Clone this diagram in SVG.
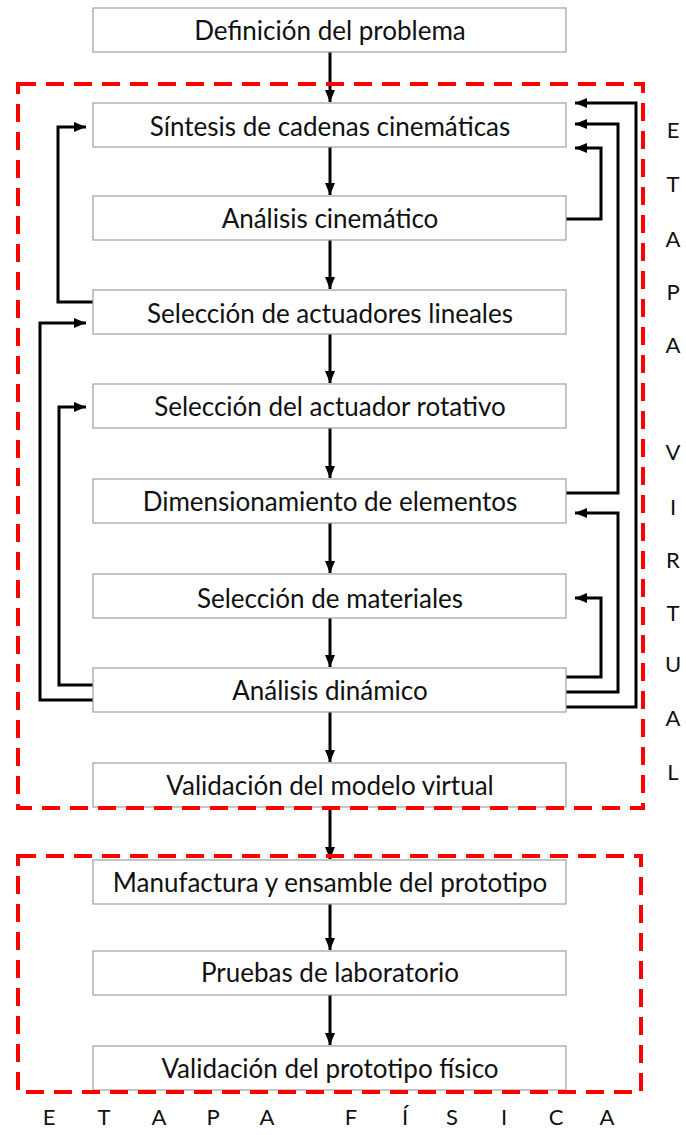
<svg xmlns="http://www.w3.org/2000/svg" width="686" height="1135" viewBox="0 0 686 1135">
<defs>
<marker id="ah" markerWidth="12" markerHeight="10" refX="12" refY="5" orient="auto" markerUnits="userSpaceOnUse">
<path d="M0,0 L12,5 L0,10 Z" fill="#000"/>
</marker>
<style>
.box{fill:#fff;stroke:#a6a6a6;stroke-width:1.3}
.lbl{font-family:Lato,"Open Sans",sans-serif;font-size:26px;fill:#111;text-anchor:middle;dominant-baseline:central}
.con{fill:none;stroke:#000;stroke-width:3;marker-end:url(#ah)}
.dash{fill:none;stroke:#ff0000;stroke-width:4;stroke-dasharray:18 10}
.let{font-family:Lato,"Open Sans",sans-serif;font-size:22px;fill:#111;text-anchor:middle;dominant-baseline:central}
</style>
</defs>
<rect width="686" height="1135" fill="#fff"/>
<g id="connectors">
<path class="con" d="M330,52 V102"/>
<path class="con" d="M330,147 V195"/>
<path class="con" d="M330,240 V289"/>
<path class="con" d="M330,334 V383"/>
<path class="con" d="M330,428 V478"/>
<path class="con" d="M330,523 V573"/>
<path class="con" d="M330,618 V667"/>
<path class="con" d="M330,712 V762"/>
<path class="con" d="M330,807 V859"/>
<path class="con" d="M330,904 V950"/>
<path class="con" d="M330,995 V1045"/>
<path class="con" d="M566,219 H601 V148 H575"/>
<path class="con" d="M566,493 H618 V124 H575"/>
<path class="con" d="M566,707 H636 V103 H575"/>
<path class="con" d="M566,692 H618 V513 H575"/>
<path class="con" d="M566,677 H601 V598 H575"/>
<path class="con" d="M93,302 H58 V127 H86"/>
<path class="con" d="M93,700 H40 V323 H86"/>
<path class="con" d="M93,685 H59 V407 H86"/>
</g>
<g id="n1"><rect class="box" x="93" y="8" width="473" height="44"/><text class="lbl" x="330" y="30">Definición del problema</text></g>
<g id="n2"><rect class="box" x="93" y="103" width="473" height="44"/><text class="lbl" x="330" y="126">Síntesis de cadenas cinemáticas</text></g>
<g id="n3"><rect class="box" x="93" y="196" width="473" height="44"/><text class="lbl" x="330" y="218">Análisis cinemático</text></g>
<g id="n4"><rect class="box" x="93" y="290" width="473" height="44"/><text class="lbl" x="330" y="313">Selección de actuadores lineales</text></g>
<g id="n5"><rect class="box" x="93" y="384" width="473" height="44"/><text class="lbl" x="330" y="406">Selección del actuador rotativo</text></g>
<g id="n6"><rect class="box" x="93" y="479" width="473" height="44"/><text class="lbl" x="330" y="501">Dimensionamiento de elementos</text></g>
<g id="n7"><rect class="box" x="93" y="574" width="473" height="44"/><text class="lbl" x="330" y="598">Selección de materiales</text></g>
<g id="n8"><rect class="box" x="93" y="668" width="473" height="44"/><text class="lbl" x="330" y="690">Análisis dinámico</text></g>
<g id="n9"><rect class="box" x="93" y="763" width="473" height="44"/><text class="lbl" x="330" y="785">Validación del modelo virtual</text></g>
<g id="n10"><rect class="box" x="93" y="860" width="473" height="44"/><text class="lbl" x="330" y="882">Manufactura y ensamble del prototipo</text></g>
<g id="n11"><rect class="box" x="93" y="951" width="473" height="44"/><text class="lbl" x="330" y="972">Pruebas de laboratorio</text></g>
<g id="n12"><rect class="box" x="93" y="1046" width="473" height="44"/><text class="lbl" x="330" y="1068">Validación del prototipo físico</text></g>
<g id="stages">
<rect class="dash" x="18" y="84" width="625" height="724"/>
<rect class="dash" x="18" y="856" width="623" height="236"/>
<text class="let" x="673" y="129">E</text>
<text class="let" x="673" y="183">T</text>
<text class="let" x="673" y="238">A</text>
<text class="let" x="673" y="291">P</text>
<text class="let" x="673" y="344">A</text>
<text class="let" x="673" y="451">V</text>
<text class="let" x="673" y="506">I</text>
<text class="let" x="673" y="559">R</text>
<text class="let" x="673" y="612">T</text>
<text class="let" x="673" y="663">U</text>
<text class="let" x="673" y="717">A</text>
<text class="let" x="673" y="771">L</text>
<text class="let" x="49" y="1116">E</text>
<text class="let" x="104" y="1116">T</text>
<text class="let" x="159" y="1116">A</text>
<text class="let" x="213" y="1116">P</text>
<text class="let" x="267" y="1116">A</text>
<text class="let" x="351" y="1116">F</text>
<text class="let" x="405" y="1116">Í</text>
<text class="let" x="452" y="1116">S</text>
<text class="let" x="504" y="1116">I</text>
<text class="let" x="556" y="1116">C</text>
<text class="let" x="607" y="1116">A</text>
</g>
</svg>
